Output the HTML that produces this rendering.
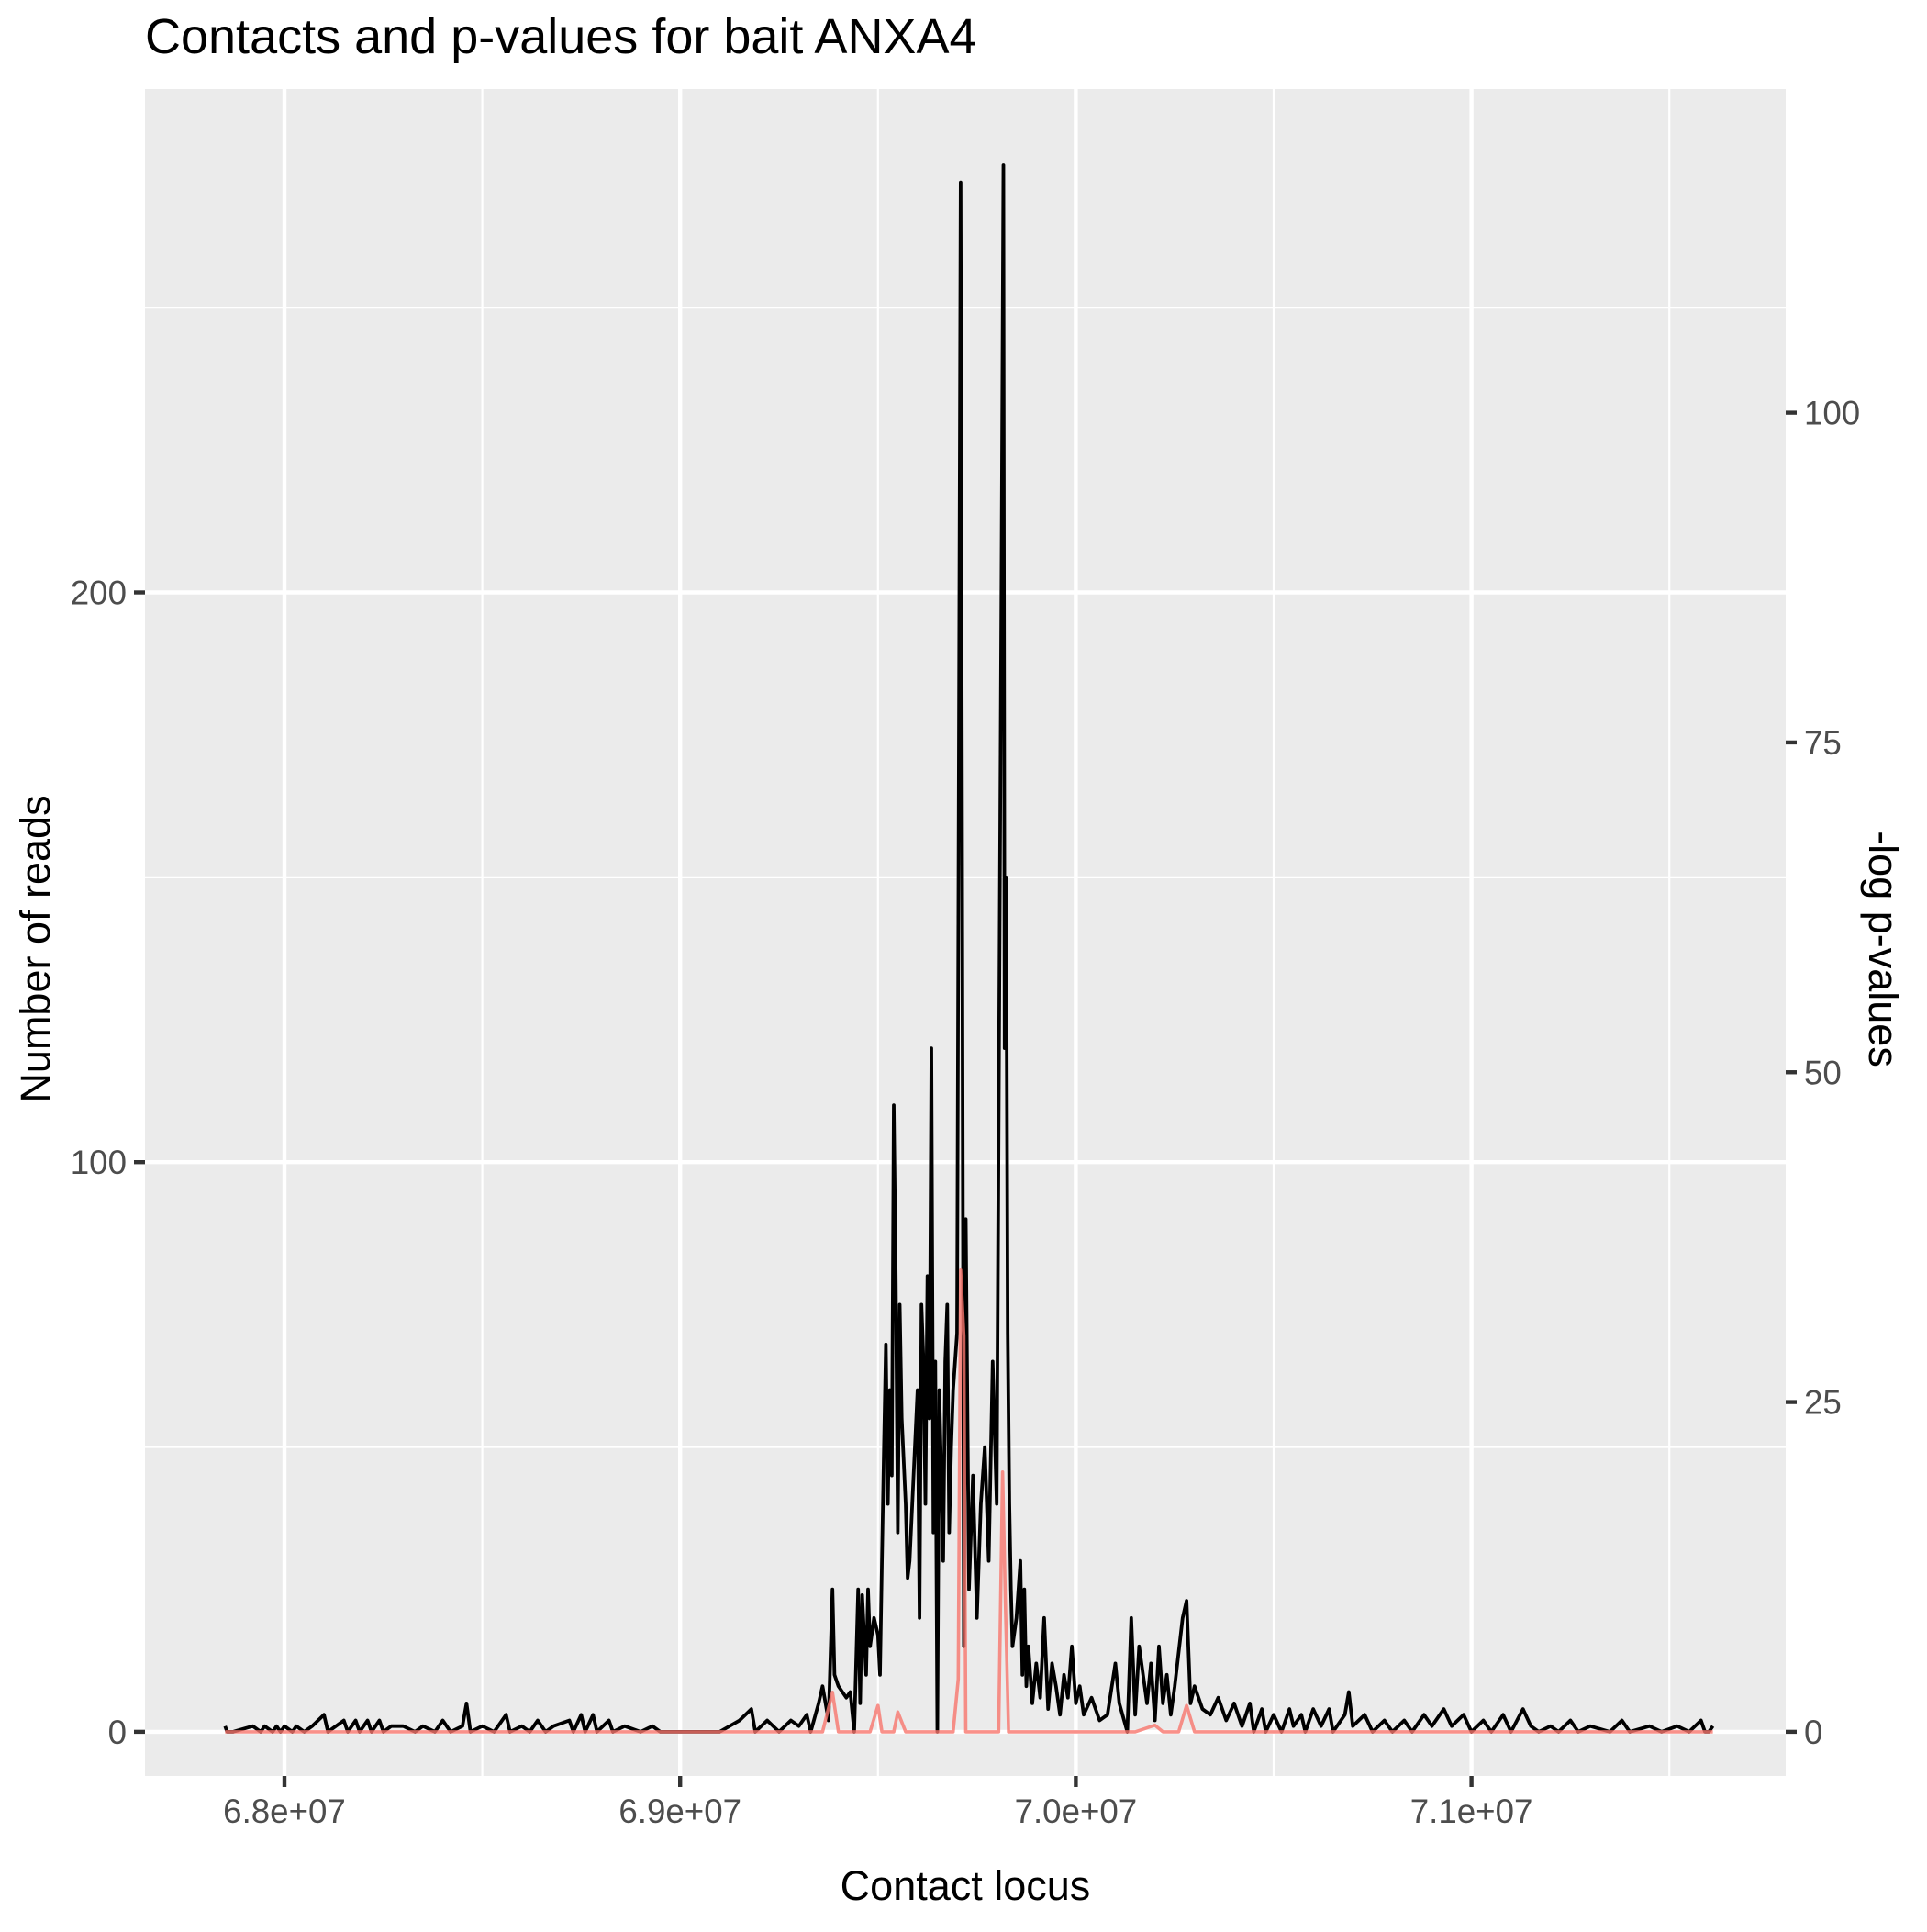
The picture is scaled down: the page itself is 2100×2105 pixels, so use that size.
<!DOCTYPE html>
<html><head><meta charset="utf-8"><style>
body{margin:0;background:#fff}
svg text{font-family:"Liberation Sans",sans-serif}
</style></head><body>
<svg id="chart" width="2100" height="2100" xmlns="http://www.w3.org/2000/svg">
<rect x="0" y="0" width="2100" height="2100" fill="#fff"/>
<text x="158" y="58" font-size="54" fill="#000">Contacts and p-values for bait ANXA4</text>
<rect x="158" y="97" width="1788" height="1838" fill="#ebebeb"/>
<g id="grid"></g>
<g id="series"></g>
<g id="axes"></g>
<text x="1052" y="2070" font-size="45" text-anchor="middle">Contact locus</text>
<text transform="translate(54,1034) rotate(-90)" font-size="45" text-anchor="middle">Number of reads</text>
<text transform="translate(2037,1034) rotate(90)" font-size="45" text-anchor="middle">-log p-values</text>
</svg>
<script>
const readsPos=[67.85,67.855,67.87,67.92,67.94,67.95,67.97,67.98,67.99,68.00,68.02,68.03,68.05,68.07,68.10,68.11,68.13,68.15,68.16,68.18,68.19,68.21,68.22,68.24,68.25,68.27,68.30,68.33,68.35,68.38,68.40,68.42,68.45,68.46,68.47,68.50,68.53,68.56,68.57,68.60,68.62,68.64,68.66,68.68,68.72,68.73,68.75,68.76,68.78,68.79,68.82,68.83,68.86,68.90,68.93,68.95,69.00,69.10,69.15,69.18,69.19,69.22,69.25,69.28,
69.30,69.32,69.33,69.35,69.36,69.375,69.385,69.39,69.40,69.42,69.43,69.44,69.45,69.455,69.46,69.47,69.475,69.48,69.49,69.50,69.505,69.51,69.515,69.52,69.525,69.53,69.535,69.54,69.545,69.55,69.555,69.56,69.57,69.575,69.58,69.59,69.60,69.605,69.61,69.615,69.62,69.625,69.63,69.635,69.64,69.645,69.65,69.655,69.66,69.665,69.67,69.675,69.68,69.685,69.69,69.70,69.709,69.717,69.722,69.73,69.74,69.75,69.76,69.77,69.78,69.79,69.80,69.812,69.817,69.82,69.824,69.828,69.832,69.836,69.84,69.85,69.86,69.865,69.87,69.875,69.88,69.89,69.90,69.91,69.92,69.93,69.94,69.95,69.96,69.97,69.98,69.99,70.00,70.01,70.02,70.04,70.06,70.08,70.10,70.11,70.13,70.14,70.15,70.16,70.17,70.18,70.19,70.20,70.21,70.22,70.23,70.24,70.25,70.27,70.28,70.29,70.30,70.32,70.34,70.36,70.38,70.40,
70.42,70.44,70.45,70.47,70.48,70.50,70.52,70.54,70.55,70.57,70.58,70.60,70.62,70.64,70.65,70.68,70.69,70.70,70.73,70.75,70.78,70.80,70.83,70.85,70.88,70.90,70.93,70.95,70.98,71.00,71.03,71.05,71.08,71.10,71.13,71.15,71.17,71.20,71.22,71.25,71.27,71.30,71.35,71.38,71.40,71.45,71.48,71.52,71.55,71.58,71.59,71.60,71.61];
const readsVal=[1,0,0,1,0,1,0,1,0,1,0,1,0,1,3,0,1,2,0,2,0,2,0,2,0,1,1,0,1,0,2,0,1,5,0,1,0,3,0,1,0,2,0,1,2,0,3,0,3,0,2,0,1,0,1,0,0,0,2,4,0,2,0,2,
1,3,0,5,8,2,25,10,8,6,7,0,25,5,24,10,25,15,20,17,10,30,50,68,40,60,45,110,80,35,75,55,40,27,30,45,60,20,75,65,40,80,55,120,35,65,0,60,45,30,65,75,35,50,60,70,272,15,90,25,45,20,40,50,30,65,40,200,275,120,150,70,40,25,15,20,30,10,25,8,15,5,12,6,20,4,12,8,3,10,6,15,5,8,3,6,2,3,12,5,0,20,3,15,10,5,12,2,15,5,10,3,8,20,23,5,8,4,3,6,2,5,
1,5,0,4,0,3,0,4,1,3,0,4,1,4,0,3,7,1,3,0,2,0,2,0,3,1,4,1,3,0,2,0,3,0,4,1,0,1,0,2,0,1,0,2,0,1,0,1,0,2,0,0,1];
const pvalPos=[67.85,69.36,69.385,69.40,69.48,69.50,69.51,69.54,69.55,69.57,69.69,69.703,69.709,69.717,69.722,69.805,69.815,69.822,69.83,70.15,70.20,70.22,70.26,70.28,70.30,71.61];
const pvalVal=[0,0,3,0,0,2,0,0,1.5,0,0,4,35,30,0,0,19.7,10,0,0,0.5,0,0,2,0,0];
const xTicks=[68,69,70,71], xTickLabels=["6.8e+07","6.9e+07","7.0e+07","7.1e+07"];
const xMinor=[68.5,69.5,70.5,71.5];
const yTicks=[0,100,200], yMinor=[50,150,250];
const y2Ticks=[0,25,50,75,100];

const NS="http://www.w3.org/2000/svg";
const X=v=>310+(v-68)*431.2;
const Y=v=>1886.9-v*6.207;
const Y2=v=>1886.9-v*14.373;
const L=158,R=1946,T=97,B=1935;
function mk(tag,attrs,parent){const e=document.createElementNS(NS,tag);for(const k in attrs)e.setAttribute(k,attrs[k]);parent.appendChild(e);return e;}
const grid=document.getElementById('grid'),series=document.getElementById('series'),axes=document.getElementById('axes');
yMinor.forEach(v=>{const l=mk('line',{x1:L,x2:R,y1:Y(v),y2:Y(v),stroke:'#fff','stroke-width':2.2},grid);

});
xMinor.forEach(v=>{const l=mk('line',{x1:X(v),x2:X(v),y1:T,y2:B,stroke:'#fff','stroke-width':2.2},grid);

});
yTicks.forEach(v=>{const l=mk('line',{x1:L,x2:R,y1:Y(v),y2:Y(v),stroke:'#fff','stroke-width':4.4},grid);


const t=mk('line',{x1:L-12,x2:L,y1:Y(v),y2:Y(v),stroke:'#333','stroke-width':4.4},axes);


const tx=mk('text',{x:L-20,y:Y(v)+13,'font-size':36.7,fill:'#4d4d4d','text-anchor':'end'},axes);tx.textContent=v;

});
xTicks.forEach((v,i)=>{const l=mk('line',{x1:X(v),x2:X(v),y1:T,y2:B,stroke:'#fff','stroke-width':4.4},grid);


const t=mk('line',{x1:X(v),x2:X(v),y1:B,y2:B+12,stroke:'#333','stroke-width':4.4},axes);


const tx=mk('text',{x:X(v),y:1986,'font-size':36.7,fill:'#4d4d4d','text-anchor':'middle'},axes);tx.textContent=xTickLabels[i];

});
y2Ticks.forEach(v=>{const t=mk('line',{x1:R,x2:R+12,y1:Y2(v),y2:Y2(v),stroke:'#333','stroke-width':4.4},axes);


const tx=mk('text',{x:R+20,y:Y2(v)+13,'font-size':36.7,fill:'#4d4d4d'},axes);tx.textContent=v;

});
const rl=mk('polyline',{points:readsPos.map((p,i)=>X(p).toFixed(1)+','+Y(readsVal[i]).toFixed(1)).join(' '),fill:'none',stroke:'#000','stroke-width':3.8,'stroke-linejoin':'round'},series);


const pl=mk('polyline',{points:pvalPos.map((p,i)=>X(p).toFixed(1)+','+Y2(pvalVal[i]).toFixed(1)).join(' '),fill:'none',stroke:'#f8766d','stroke-opacity':0.8,'stroke-width':3.6,'stroke-linejoin':'round'},series);


</script>
</body></html>
